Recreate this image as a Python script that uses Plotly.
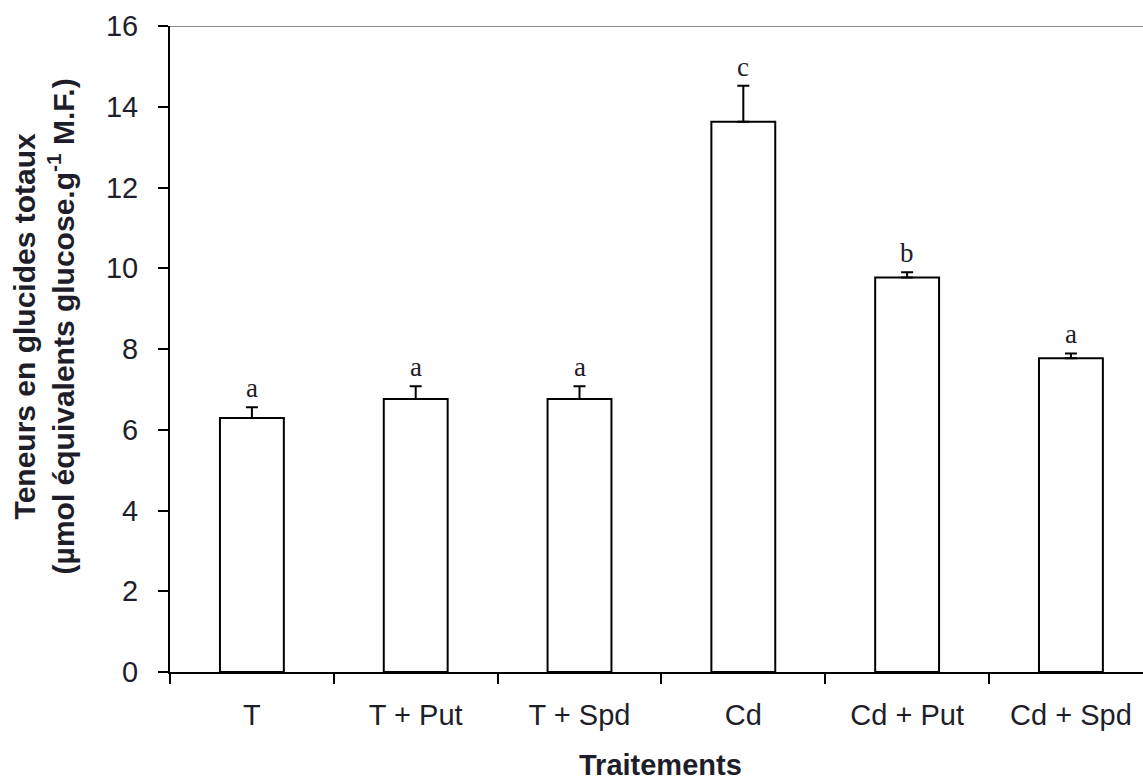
import plotly.graph_objects as go

# Total sugar content per treatment (mean + standard error)
treatments = ["T", "T + Put", "T + Spd", "Cd", "Cd + Put", "Cd + Spd"]
glucides = [6.29, 6.76, 6.76, 13.63, 9.77, 7.77]
erreur = [0.27, 0.32, 0.32, 0.89, 0.13, 0.12]
lettres = ["a", "a", "a", "c", "b", "a"]
y_ticks = [0, 2, 4, 6, 8, 10, 12, 14, 16]

text_color = "#1e1e2a"
axis_font = dict(family="Arial, Liberation Sans, sans-serif", size=29, color=text_color)

fig = go.Figure()
fig.add_trace(go.Bar(
    x=treatments,
    y=glucides,
    marker=dict(color="white", line=dict(color="black", width=2)),
    error_y=dict(type="data", array=erreur, arrayminus=[0] * len(erreur),
                 symmetric=False, color="black", thickness=2, width=6),
    showlegend=False,
))

# Significance letters above each error bar
for t, v, e, l in zip(treatments, glucides, erreur, lettres):
    fig.add_annotation(x=t, y=v + e, text=l, showarrow=False, yanchor="bottom",
                       yshift=2, font=dict(family="Liberation Serif, Times New Roman, serif",
                                           size=27, color=text_color))

# Grey frame line at the top of the value axis
fig.add_shape(type="line", xref="paper", yref="y", x0=0, x1=1, y0=16, y1=16,
              line=dict(color="#8c8c8c", width=2))

fig.add_annotation(
    xref="paper", yref="paper", x=0, y=0.535, xshift=-126, textangle=-90,
    showarrow=False, xanchor="center", yanchor="middle",
    text="<b>Teneurs en glucides totaux</b><br><b>(µmol équivalents glucose.g<sup>-1</sup> M.F.)</b>",
    font=dict(family="Arial, Liberation Sans, sans-serif", size=30, color=text_color),
)
fig.add_annotation(
    xref="paper", yref="paper", x=0.504, y=0, yshift=-93, showarrow=False,
    xanchor="center", yanchor="middle", text="<b>Traitements</b>",
    font=dict(family="Arial, Liberation Sans, sans-serif", size=29, color=text_color),
)

fig.update_layout(
    width=1143, height=780,
    margin=dict(l=170, r=0, t=26, b=108),
    paper_bgcolor="white", plot_bgcolor="white",
    bargap=0.61,
    font=axis_font,
)
fig.update_xaxes(
    type="category", range=[-0.5, 5.44], showgrid=False, zeroline=False,
    showline=True, linecolor="black", linewidth=2,
    ticks="outside", tickson="boundaries", ticklen=10, tickwidth=2, tickcolor="black",
    tickfont=axis_font, ticklabelstandoff=16,
)
fig.update_yaxes(
    range=[0, 16], tickvals=y_ticks, showgrid=False, zeroline=False,
    showline=True, linecolor="black", linewidth=2,
    ticks="outside", ticklen=10, tickwidth=2, tickcolor="black",
    tickfont=axis_font, ticklabelstandoff=14,
)

fig.write_html("out.html")
